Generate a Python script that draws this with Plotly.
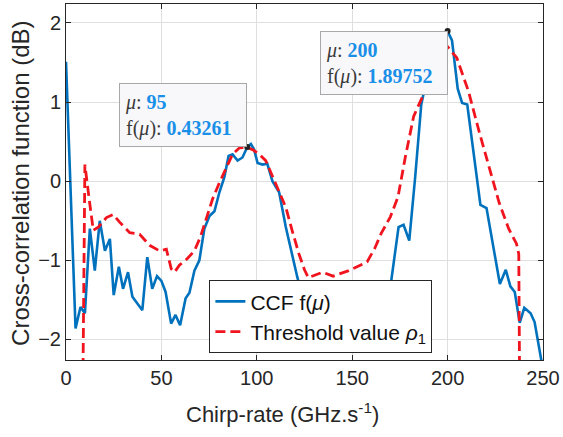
import plotly.graph_objects as go

# ---- data ----
ccf_x = [0, 5.0, 7.6, 9.9, 12.5, 15.1, 17.7, 20.4, 23.0, 25.0, 27.7, 29.9, 32.5, 34.8, 40.0,
         42.6, 45.2, 47.7, 50.0, 52.2, 55.1, 57.4, 59.8, 62.7, 64.7, 67.3, 69.9, 72.5, 75.2,
         77.8, 80.4, 83.0, 85.2, 87.3, 89.9, 92.5, 95, 96.9, 98.6, 100.4, 103.0, 105.5, 108.2,
         111.7, 115.2, 118.6, 121.2, 125, 130, 140, 150, 160, 166, 170.5, 174.3, 176.9, 179.9,
         183.0, 186.2, 190, 195, 198, 200, 202.3, 205.3, 207.6, 210.3, 217.2, 220.4, 227.4,
         230.5, 232.9, 235.2, 237.8, 240.2, 243.5, 245.6, 249.1, 250]
ccf_y = [1.51, -1.86, -1.59, -1.67, -0.60, -1.13, -0.50, -0.88, -0.73, -1.44, -1.08, -1.36,
         -1.15, -1.46, -1.63, -0.96, -1.36, -1.20, -1.26, -1.40, -1.80, -1.69, -1.82, -1.48,
         -1.41, -1.13, -1.00, -0.60, -0.44, -0.38, -0.14, 0.05, 0.32, 0.34, 0.26, 0.30, 0.43261,
         0.47, 0.40, 0.23, 0.21, 0.22, 0.00, -0.14, -0.58, -0.96, -1.21, -1.55, -1.90, -2.10,
         -2.15, -1.95, -1.60, -1.25, -0.58, -0.55, -0.75, 0.05, 0.97, 1.40, 1.70, 1.85, 1.89752,
         1.78, 1.17, 0.99, 0.97, -0.30, -0.34, -1.30, -1.12, -1.33, -1.40, -1.79, -1.60, -1.67,
         -1.78, -2.26, -2.40]

thr_x = [8.5, 9.9, 12.0, 14.3, 16.9, 21.2, 24.7, 28.2, 33.4, 38.6, 43.8, 49.0, 52.6, 55.2,
         56.9, 59.5, 63.5, 67.3, 70.5, 73.6, 76.9, 80.4, 83.9, 87.3, 90.8, 94.3, 97.8, 101.3,
         104.7, 108.2, 111.7, 115.2, 118.6, 122.1, 125.0, 127.0, 134.5, 140.0, 148.2, 157.8,
         161.8, 165.2, 170.0, 174.0, 177.8, 182.2, 186.5, 190, 195, 200, 204.8, 210.9, 216.5,
         221.8, 227.0, 232.0, 236.1, 237.3, 238.0]
thr_y = [-3.5, 0.21, -0.20, -0.62, -0.58, -0.46, -0.42, -0.52, -0.65, -0.67, -0.81, -0.88,
         -0.86, -1.11, -1.15, -1.06, -0.98, -0.88, -0.70, -0.47, -0.22, -0.02, 0.17, 0.34, 0.42,
         0.43, 0.40, 0.34, 0.26, 0.07, -0.14, -0.33, -0.63, -0.92, -1.12, -1.22, -1.15, -1.20,
         -1.13, -1.02, -0.85, -0.66, -0.45, -0.20, 0.30, 0.82, 1.05, 1.30, 1.55, 1.70, 1.56,
         1.14, 0.63, 0.17, -0.27, -0.60, -0.79, -0.92, -3.5]

tip_x = [95, 200]
x_ticks = [0, 50, 100, 150, 200, 250]
y_ticks = [-2, -1, 0, 1, 2]

BLUE = "#0072BD"
RED = "#f0141e"
AX = "#262626"
FONT = "Liberation Sans, Arial, sans-serif"
TIPBLUE = "#1a8fe8"

tip_y = [ccf_y[ccf_x.index(t)] for t in tip_x]

fig = go.Figure()
fig.add_trace(go.Scatter(x=ccf_x, y=ccf_y, mode="lines", name="CCF f(<i>μ</i>)",
                         line=dict(color=BLUE, width=2.6)))
fig.add_trace(go.Scatter(x=thr_x, y=thr_y, mode="lines",
                         name="Threshold value <i>ρ</i><sub>1</sub>",
                         line=dict(color=RED, width=2.8, dash="10px,5px")))
fig.add_trace(go.Scatter(x=tip_x, y=tip_y, mode="markers", showlegend=False,
                         marker=dict(color="#222222", size=6)))

# datatips
def tip_text(xv, yv):
    return ("<i>μ</i>: <b><span style='color:%s'>%g</span></b><br>"
            "f(<i>μ</i>): <b><span style='color:%s'>%.5f</span></b>" % (TIPBLUE, xv, TIPBLUE, yv))

anchors = [("right", "bottom"), ("right", "top")]
for (xv, yv), (xa, ya) in zip(zip(tip_x, tip_y), anchors):
    fig.add_annotation(x=xv, y=yv, xref="x", yref="y", text=tip_text(xv, yv),
                       showarrow=False, xanchor=xa, yanchor=ya, align="left",
                       width=116, height=52,
                       font=dict(family="Liberation Serif, Times New Roman, serif",
                                 size=20, color="#3a3a3a"),
                       bgcolor="#f8f8fa", bordercolor="#a8a8a8", borderwidth=1,
                       borderpad=5)

# axis titles
fig.add_annotation(text="Chirp-rate (GHz.s<sup>-1</sup>)", xref="paper", yref="paper",
                   x=0.453, y=-0.148, xanchor="center", yanchor="middle", showarrow=False,
                   font=dict(family=FONT, size=22, color=AX))
fig.add_annotation(text="Cross-correlation function (dB)", xref="paper", yref="paper",
                   x=-0.094, y=0.495, xanchor="center", yanchor="middle", showarrow=False,
                   textangle=-90, font=dict(family=FONT, size=24, color=AX))

axis_common = dict(showline=True, linecolor=AX, linewidth=1, mirror="ticks",
                   ticks="inside", ticklen=5, tickcolor=AX, showgrid=True,
                   gridcolor="#dfdfdf", gridwidth=1, zeroline=False,
                   tickfont=dict(family=FONT, size=20, color=AX))
fig.update_xaxes(range=[0, 250], tickvals=x_ticks, **axis_common)
fig.update_yaxes(range=[-2.26, 2.24], tickvals=y_ticks, **axis_common)

fig.update_layout(
    width=563, height=437,
    margin=dict(l=66, r=18, t=3, b=77),
    paper_bgcolor="white", plot_bgcolor="white",
    showlegend=True,
    legend=dict(x=0.3006, y=0.224, xanchor="left", yanchor="top",
                bgcolor="white", bordercolor=AX, borderwidth=1,
                font=dict(family=FONT, size=21, color="#111111")),
)

fig.write_html("out.html")
